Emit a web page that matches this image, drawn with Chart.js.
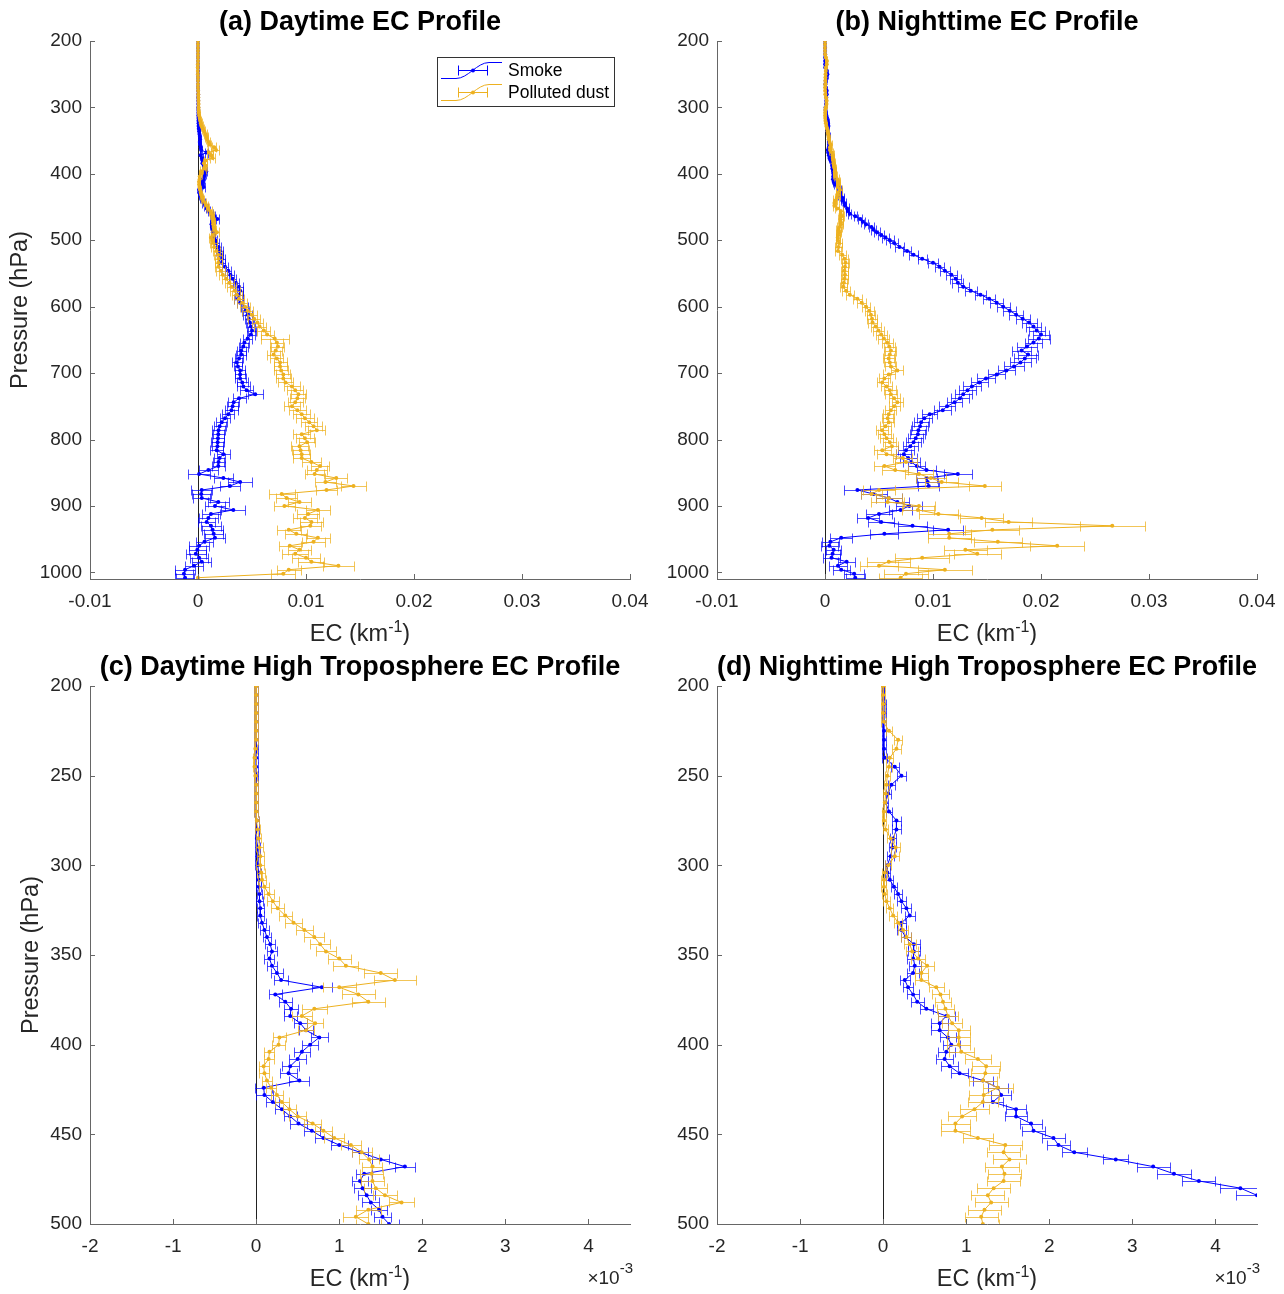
<!DOCTYPE html>
<html><head><meta charset="utf-8">
<script src="https://cdn.jsdelivr.net/npm/chart.js@4.4.1/dist/chart.umd.min.js"></script>
<style>
html,body{margin:0;padding:0;background:#fff;}
body{width:1284px;height:1294px;position:relative;overflow:hidden;}
canvas{position:absolute;}
</style></head><body>
<canvas id="ca" width="657" height="645" style="left:0;top:0"></canvas>
<canvas id="cb" width="657" height="645" style="left:627px;top:0"></canvas>
<canvas id="cc" width="657" height="645" style="left:0;top:645px"></canvas>
<canvas id="cd" width="657" height="645" style="left:627px;top:645px"></canvas>
<script>
// ---------------- DATA (EC in units of 1e-3 km^-1) ----------------
const pressureHPa = [
200,205,210,215,220,225,230,235,240,245,250,255,260,265,270,275,280,285,290,295,300,
304,308,312,316,320,324,328,332,336,340,344,348,352,356,360,364,368,372,376,380,384,388,392,396,400,404,408,412,416,420,424,428,432,436,440,444,448,452,456,460,464,468,472,476,480,484,488,492,496,500,
504,510,516,522,528,534,540,546,552,558,564,570,576,582,588,594,600,606,612,618,624,630,636,642,648,654,660,666,672,678,684,690,696,702,708,714,720,726,732,738,744,750,756,762,768,774,780,786,792,798,804,810,816,822,828,834,840,846,852,858,864,870,876,882,888,894,900,906,912,918,924,930,936,942,948,954,960,966,972,978,984,990,996,1002,1008];

const daySmokeEC = [
0,0,0,0,0,0,0,0,0,0,0,0,0,0,0,0.01,0.01,0.01,0.02,0.02,0.02,
0.03,0.03,0.03,0.04,0.04, 0.05,0.05,0.07,0.1,0.13, 0.17,0.19,0.16,0.19,0.25, 0.3,0.79,0.23,0.35,0.42, 0.41,0.53,0.6,0.76,0.65, 0.55,0.5,0.41,0.39,0.52, 0.09,0.1,0.2,0.31,0.41, 0.51,0.67,0.81,1.0,1.25, 1.5,1.79,1.3,1.25,1.28, 1.33,1.38,1.48,1.52,1.6,
1.7,1.9,2.0,2.1,2.2, 2.2,2.5,2.8,3.0,3.2, 3.5,3.8,3.9,3.8,3.7, 3.9,4.3,4.4,4.6,4.7, 4.8,4.9,5.0,4.9,4.6, 4.3,4.2,4.0,4.0,3.8, 3.6,3.7,3.9,3.9,3.9, 4.1,4.2,4.5,5.3,3.8, 3.3,3.2,3.1,2.8,2.5, 2.2,2.0,1.9,1.88,1.85, 1.82,1.8,1.73,2.35,2.0, 1.9,1.88,0.96,0.1,2.35, 3.9,2.96,0.34,0.3,0.35, 1.88,1.57,3.27,1.2,0.96, 0.8,1.2,1.35,1.45,1.57, 0.6,0.1,-0.06,-0.2,0.1, 0.34,-0.37,-1.2,-1.3,-1.2];
const daySmokeErr = [
0.02,0.02,0.02,0.02,0.02,0.02,0.02,0.02,0.02,0.02,0.02,0.02,0.02,0.02,0.02,0.02,0.02,0.02,0.03,0.03,0.03,
0.03,0.03,0.03,0.03,0.04, 0.04,0.04,0.05,0.05,0.05, 0.06,0.06,0.06,0.06,0.07, 0.08,0.12,0.08,0.08,0.08, 0.08,0.08,0.08,0.1,0.1, 0.1,0.1,0.1,0.1,0.12, 0.1,0.1,0.08,0.08,0.08, 0.1,0.1,0.1,0.1,0.1, 0.1,0.12,0.1,0.1,0.1, 0.1,0.1,0.1,0.1,0.12,
0.25,0.25,0.3,0.25,0.3, 0.3,0.3,0.3,0.35,0.3, 0.3,0.35,0.3,0.35,0.35, 0.3,0.35,
0.35,0.4,0.35,0.4,0.4, 0.35,0.4,0.4,0.45,0.4, 0.4,0.45,0.4,0.45,0.4, 0.45,
0.45,0.5,0.5,0.6,0.6, 0.7,0.6,0.5,0.5,0.6, 0.55,0.5, 0.5,0.55,0.6,0.5,0.55, 0.6,0.5,0.6,0.6,0.5, 0.55,0.6,
0.9,1.0,0.9,1.1,0.9, 1.0,0.9,0.8,1.0,0.9, 1.1,0.8,0.9,0.8,0.9, 1.0,0.9,0.9,0.8,0.9, 0.8,0.9,0.8,0.9,0.8, 0.9,0.8,0.8];

const dayDustEC = [
0,0,0,0,0,0,0,-0.01,-0.02,-0.02,-0.01,0,0,0,0,0.01,0.02,0.03,0.04,0.05,0.05,
0.06,0.07,0.1,0.15,0.2, 0.26,0.35,0.45,0.58,0.7, 0.77,0.84,1.0,1.08,1.5, 1.67,1.0,1.23,1.35,0.7, 0.55,0.71,0.6,0.28,0.27, 0.16,0.15,0.09,0.1,0.13, 0.18,0.25,0.31,0.4,0.5, 0.68,0.81,0.94,1.14,1.27, 1.36,1.4,1.39,1.4,1.44, 1.55,1.75,1.35,1.2,1.35,
1.42,1.5,1.7,1.85,1.9, 1.88,1.9,2.1,2.3,2.6, 2.9,3.1,3.4,3.6,3.8, 4.1,4.35,4.6,5.0,5.2, 5.5,5.7,6.1,6.4,7.1, 7.3,7.4,7.2,7.0,7.3, 7.6,7.6,7.7,7.9,7.9, 8.1,8.7,9.0,9.3,9.2, 9.0,8.7,9.2,9.6,9.9, 10.3,10.7,11.0,9.6,9.9, 10.1,9.4,9.5,9.6,9.6, 10.5,11.3,11.0,10.8,12.8, 11.8,14.4,11.9,7.75,8.2, 9.4,8.0,11.1,10.2,9.9, 10.5,10.4,8.4,9.1,11.1, 10.7,8.5,9.4,9.0,10.0, 10.5,13.0,8.4,7.9,0];
const dayDustErr = [
0.02,0.02,0.02,0.02,0.02,0.02,0.02,0.02,0.02,0.02,0.02,0.02,0.02,0.02,0.02,0.02,0.03,0.03,0.04,0.04,0.05,
0.05,0.05,0.06,0.06,0.07, 0.08,0.08,0.1,0.1,0.12, 0.12,0.12,0.14,0.15,0.2, 0.25,0.2,0.2,0.2,0.15, 0.12,0.1,0.1,0.08,0.08, 0.06,0.06,0.06,0.06,0.06, 0.06,0.07,0.08,0.08,0.1, 0.1,0.1,0.12,0.12,0.12, 0.12,0.12,0.14,0.14,0.14, 0.14,0.15,0.15,0.15,0.15,
0.3,0.3,0.3,0.35,0.35, 0.35,0.35,0.4,0.4,0.4, 0.4,0.4,0.45,0.45,0.45, 0.45,0.5,
0.5,0.5,0.55,0.5,0.55, 0.6,0.6,1.3,0.6,0.6, 0.55,0.6,0.6,0.6,0.6, 0.65,
0.65,0.7,0.7,0.7,0.75, 0.7,0.7,0.7,0.75,0.8, 0.8,0.8,0.75,0.8,0.8, 0.8,0.8,0.75,0.8,0.8, 0.8,0.8,0.85,0.85,
0.9,0.9,1.0,1.0,1.2, 1.0,1.2,1.0,1.1,1.0, 1.1,1.0,1.1,1.1,1.0, 1.1,1.0,1.1,1.1,1.0, 1.1,1.2,1.3,1.2,1.4, 1.1,1.1,0];

const nightSmokeEC = [
0,0,0.01,0.01,0.01,0.01,0.01,0.01,0.02,0.14,0.22,0.1,0.06,0.03,0.07,0.16,0.16,0.12,0.11,0.09,0.05,
0.05,0.08,0.13,0.18,0.22, 0.28,0.32,0.22,0.22,0.27, 0.37,0.37,0.36,0.38,0.36, 0.26,0.3,0.36,0.41,0.52, 0.76,0.68,0.68,0.78,0.82, 0.76,0.74,0.8,0.92,1.2, 1.38,1.42,1.32,1.6,1.6, 1.78,1.81,2.05,2.11,2.3, 2.8,3.25,3.5,3.8,4.3, 4.5,4.8,5.2,5.6,6.0,
6.4,6.9,7.6,8.2,9.0, 10.0,10.6,11.1,11.7,12.1, 12.3,12.8,13.5,14.4,15.2, 15.9,16.5,17.1,17.7,18.3, 18.9,19.3,19.6,20.0,19.8, 19.3,18.7,18.2,18.8,18.5, 18.1,17.5,16.8,15.9,14.9, 14.3,13.6,13.2,12.8,12.5, 12.0,11.3,10.9,9.7,9.2, 8.9,8.8,8.65,8.6,8.4, 8.2,7.9,7.5,7.3,7.7, 8.0,8.5,9.4,12.3,9.4, 9.5,9.6,3.0,4.5,5.9, 6.7,7.8,7.0,5.0,4.0, 5.2,8.1,11.4,5.5,1.5, 0.5,0.4,0.8,0.7,0.6, 2.0,1.2,1.5,2.7,2.8];
const nightSmokeErr = [
0.01,0.01,0.02,0.02,0.02,0.02,0.02,0.02,0.03,0.05,0.05,0.04,0.03,0.03,0.04,0.05,0.05,0.04,0.04,0.04,0.03,
0.03,0.04,0.04,0.05,0.05, 0.06,0.06,0.05,0.05,0.06, 0.07,0.07,0.07,0.07,0.07, 0.06,0.06,0.07,0.08,0.08, 0.1,0.1,0.1,0.1,0.1, 0.1,0.1,0.1,0.1,0.12, 0.12,0.12,0.12,0.12,0.13, 0.13,0.14,0.14,0.14,0.15, 0.15,0.2,0.2,0.2,0.25, 0.25,0.3,0.3,0.35,0.35,
0.35,0.4,0.4,0.4,0.4, 0.45,0.45,0.45,0.5,0.5, 0.5,0.5,0.55,0.55,0.55, 0.6,0.6,
0.6,0.65,0.65,0.7,0.7, 0.75,0.75,1.0,0.8,0.9, 0.9,0.9,1.0,1.0,0.9, 0.8,
0.8,0.8,0.8,0.8,0.8, 0.8,0.8,0.7,0.7,0.8, 0.7,0.7,0.7,0.7,0.7, 0.7,0.7,0.7,0.7,0.7, 0.7,0.8,0.8,0.8,
0.9,1.3,1.0,1.0,1.0, 1.2,1.2,1.2,1.1,1.2, 1.1,1.2,1.0,1.2,1.3, 1.4,1.3,1.0,0.8,0.8, 0.7,0.7,0.8,0.8,0.8, 0.8,0.9,0.9];

const nightDustEC = [
0,0,0,0,0.01,0.07,0.18,0.16,0.08,0.07,0.05,0.04,0.03,0.02,0.01,0.01,0.03,0.09,0.15,0.14,0.06,
0.02,0.01,0.01,0.02,0.04, 0.08,0.12,0.18,0.24,0.28, 0.32,0.35,0.42,0.53,0.46, 0.46,0.64,0.69,0.72,0.75, 0.78,0.83,0.91,0.91,0.91, 0.94,1.14,1.24,1.23,1.2, 1.38,1.21,1.2,1.1,0.95, 0.87,0.87,1.14,1.47,1.45, 1.52,1.43,1.46,1.45,1.33, 1.26,1.3,1.22,1.18,1.2,
1.3,1.25,1.2,1.6,1.8, 1.9,1.85,1.8,1.85,1.82, 1.75,1.7,1.95,2.3,3.0, 3.4,3.8,4.1,4.25,4.35, 4.4,4.7,4.95,5.2,5.45, 5.75,5.95,6.1,6.0,5.9, 6.0,6.1,6.7,5.9,5.5, 5.3,5.7,6.0,6.1,6.4, 6.7,6.4,6.1,5.9,5.8, 5.9,5.6,5.3,5.5,5.7, 6.0,6.2,5.3,5.7,7.2, 7.5,5.5,6.5,8.7,9.8, 10.8,14.8,5.0,4.3,5.9, 5.8,8.7,8.6,10.5,14.5, 17.0,26.6,15.5,11.5,11.5, 16.0,21.5,13.0,14.1,9.0, 5.9,5.0,11.1,7.5,7.0];
const nightDustErr = [
0.02,0.02,0.02,0.02,0.03,0.04,0.05,0.05,0.04,0.04,0.03,0.03,0.03,0.02,0.02,0.02,0.03,0.04,0.05,0.05,0.04,
0.03,0.03,0.03,0.03,0.04, 0.04,0.05,0.05,0.06,0.06, 0.07,0.07,0.08,0.08,0.08, 0.08,0.09,0.1,0.1,0.1, 0.12,0.12,0.13,0.14,0.14, 0.15,0.16,0.17,0.17,0.17, 0.18,0.18,0.18,0.18,0.17, 0.17,0.17,0.18,0.2,0.2, 0.2,0.2,0.2,0.2,0.2, 0.2,0.2,0.2,0.2,0.2,
0.25,0.3,0.3,0.3,0.3, 0.3,0.3,0.3,0.3,0.3, 0.3,0.3,0.35,0.35,0.4, 0.4,0.4,
0.4,0.4,0.45,0.45,0.45, 0.5,0.5,0.5,0.5,0.5, 0.5,0.5,0.5,0.5,0.5, 0.55,
0.55,0.5,0.5,0.5,0.55, 0.55,0.5,0.5,0.5,0.5, 0.5,0.5,0.5,0.5,0.55, 0.6,0.6,0.6,0.6,0.8, 0.9,0.9,1.0,1.0,
1.2,1.3,1.4,1.5,1.5, 1.5,1.0,1.2,1.5,1.5, 1.5,1.8,2.0,2.2,3.0, 2.5,2.0,2.0,2.2,2.5, 2.0,2.2,2.5,2.0,1.8, 2.5,2.0,2.0];

const seriesNames = ['Smoke', 'Polluted dust'];
const panelTitles = ['(a) Daytime EC Profile', '(b) Nighttime EC Profile',
  '(c) Daytime High Troposphere EC Profile', '(d) Nighttime High Troposphere EC Profile'];
const fullXTicks = [-10, 0, 10, 20, 30, 40];
const fullXTickLabels = ['-0.01', '0', '0.01', '0.02', '0.03', '0.04'];
const highXTicks = [-2, -1, 0, 1, 2, 3, 4];
const highXTickLabels = ['-2', '-1', '0', '1', '2', '3', '4'];
const fullYTicks = [200, 300, 400, 500, 600, 700, 800, 900, 1000];
const highYTicks = [200, 250, 300, 350, 400, 450, 500];

// ---------------- STYLE ----------------
const FF = '"Liberation Sans", Arial, Helvetica, sans-serif';
const BLUE = 'rgb(0,0,255)';
const ORANGE = 'rgb(237,177,32)';
const AXIS = '#666666';
const TXT = '#262626';
Chart.defaults.font.family = FF;
Chart.defaults.color = TXT;

function pts(vals) { return pressureHPa.map((p, i) => ({ x: vals[i], y: p })); }

const errorBarPlugin = {
  id: 'errbars',
  beforeDatasetDraw(chart, args) {
    const ds = chart.data.datasets[args.index];
    if (!ds.errors) return;
    const { ctx, chartArea: a } = chart;
    const xs = chart.scales.x, ys = chart.scales.y;
    ctx.save();
    ctx.beginPath(); ctx.rect(a.left, a.top, a.right - a.left, a.bottom - a.top); ctx.clip();
    ctx.strokeStyle = ds.errColor; ctx.lineWidth = 1;
    ctx.beginPath();
    ds.data.forEach((pt, i) => {
      const e = ds.errors[i];
      if (!(e > 0)) return;
      const py = Math.round(ys.getPixelForValue(pt.y)) + 0.5;
      const x1 = Math.round(xs.getPixelForValue(pt.x - e)) + 0.5;
      const x2 = Math.round(xs.getPixelForValue(pt.x + e)) + 0.5;
      ctx.moveTo(x1, py); ctx.lineTo(x2, py);
      ctx.moveTo(x1, py - 5); ctx.lineTo(x1, py + 5);
      ctx.moveTo(x2, py - 5); ctx.lineTo(x2, py + 5);
    });
    ctx.stroke();
    ctx.restore();
  }
};

const decorPlugin = {
  id: 'decor',
  beforeDatasetsDraw(chart) {
    const { ctx, chartArea: a } = chart;
    const x0 = Math.round(chart.scales.x.getPixelForValue(0)) + 0.5;
    ctx.save();
    ctx.strokeStyle = '#222'; ctx.lineWidth = 1;
    ctx.beginPath(); ctx.moveTo(x0, a.top); ctx.lineTo(x0, a.bottom); ctx.stroke();
    ctx.restore();
  },
  afterDraw(chart, args, opts) {
    const { ctx, chartArea: a } = chart;
    const xs = chart.scales.x, ys = chart.scales.y;
    ctx.save();
    ctx.strokeStyle = AXIS; ctx.lineWidth = 1;
    ctx.beginPath();
    ys.ticks.forEach(t => {
      const py = Math.round(ys.getPixelForValue(t.value)) + 0.5;
      ctx.moveTo(a.left, py); ctx.lineTo(a.left + 5, py);
    });
    xs.ticks.forEach(t => {
      const px = Math.round(xs.getPixelForValue(t.value)) + 0.5;
      ctx.moveTo(px, a.bottom); ctx.lineTo(px, a.bottom - 5);
    });
    ctx.stroke();
    const f1 = '23.5px ' + FF, f2 = '16px ' + FF;
    ctx.fillStyle = TXT; ctx.textBaseline = 'alphabetic'; ctx.textAlign = 'left';
    ctx.font = f1;
    const w1 = ctx.measureText('EC (km').width, w3 = ctx.measureText(')').width;
    ctx.font = f2;
    const w2 = ctx.measureText('-1').width;
    let x = (a.left + a.right) / 2 - (w1 + w2 + w3) / 2;
    const base = a.bottom + 62;
    ctx.font = f1; ctx.fillText('EC (km', x, base); x += w1;
    ctx.font = f2; ctx.fillText('-1', x, base - 9); x += w2;
    ctx.font = f1; ctx.fillText(')', x, base);
    if (opts.exponent) {
      const g1 = '19px ' + FF, g2 = '15px ' + FF;
      ctx.font = g1; const e1 = ctx.measureText('\u00d710').width;
      ctx.font = g2; const e2 = ctx.measureText('-3').width;
      const ex = a.right + 3 - e1 - e2;
      const eb = a.bottom + 60;
      ctx.font = g1; ctx.fillText('\u00d710', ex, eb);
      ctx.font = g2; ctx.fillText('-3', ex + e1, eb - 11);
    }
    if (opts.legend) {
      const bx = 437.5, by = 57.5, bw = 177, bh = 49;
      ctx.fillStyle = '#fff'; ctx.fillRect(bx, by, bw, bh);
      ctx.strokeStyle = '#333'; ctx.lineWidth = 1; ctx.strokeRect(bx, by, bw, bh);
      const rows = [{ c: BLUE, y: 70.5, n: seriesNames[0] }, { c: ORANGE, y: 92.5, n: seriesNames[1] }];
      rows.forEach(r => {
        ctx.strokeStyle = r.c; ctx.lineWidth = 1;
        ctx.beginPath();
        ctx.moveTo(441, r.y + 8); ctx.lineTo(456, r.y + 8);
        ctx.bezierCurveTo(468, r.y + 8, 477, r.y - 8, 489, r.y - 8);
        ctx.lineTo(502, r.y - 8);
        ctx.stroke();
        ctx.beginPath();
        ctx.moveTo(458, r.y); ctx.lineTo(488, r.y);
        ctx.moveTo(458.5, r.y - 5); ctx.lineTo(458.5, r.y + 5);
        ctx.moveTo(487.5, r.y - 5); ctx.lineTo(487.5, r.y + 5);
        ctx.stroke();
        ctx.fillStyle = r.c;
        ctx.beginPath(); ctx.arc(473, r.y, 2, 0, Math.PI * 2); ctx.fill();
        ctx.fillStyle = '#000'; ctx.font = '17.5px ' + FF; ctx.textBaseline = 'middle';
        ctx.fillText(r.n, 508, r.y + 1);
      });
    }
    ctx.restore();
  }
};

function makeChart(id, cfg) {
  const datasets = [
    { label: seriesNames[0], data: pts(cfg.smoke), errors: cfg.smokeErr, errColor: 'rgba(0,0,255,0.7)',
      showLine: true, borderColor: BLUE, backgroundColor: BLUE, borderWidth: 1,
      pointRadius: 2, pointBorderWidth: 0, pointHoverRadius: 0, clip: 0, order: 2 },
    { label: seriesNames[1], data: pts(cfg.dust), errors: cfg.dustErr, errColor: 'rgba(237,177,32,0.75)',
      showLine: true, borderColor: ORANGE, backgroundColor: ORANGE, borderWidth: 1,
      pointRadius: 2, pointBorderWidth: 0, pointHoverRadius: 0, clip: 0, order: 1 }
  ];
  return new Chart(document.getElementById(id), {
    type: 'scatter',
    data: { datasets },
    plugins: [errorBarPlugin, decorPlugin],
    options: {
      responsive: false, animation: false, devicePixelRatio: 1,
      events: [],
      layout: { padding: { left: 0, right: 27, top: 0, bottom: 0 } },
      plugins: {
        legend: { display: false }, tooltip: { enabled: false },
        title: { display: true, text: cfg.title, fullSize: false, color: '#000',
                 font: { size: 27, weight: 'bold', family: FF }, padding: { top: 6.8, bottom: 1.8 } },
        decor: { legend: cfg.legend, exponent: cfg.exponent }
      },
      scales: {
        x: {
          type: 'linear', position: 'bottom', min: cfg.xMin, max: cfg.xMax,
          afterBuildTicks: s => { s.ticks = cfg.xTicks.map(v => ({ value: v })); },
          afterFit: s => { s.height = 66; s.paddingLeft = 0; s.paddingRight = 0; },
          grid: { display: false, drawTicks: false },
          border: { display: true, color: AXIS, width: 1 },
          ticks: { font: { size: 19 }, color: TXT, padding: 11.5, maxRotation: 0, autoSkip: false,
                   callback: v => cfg.xLabels[cfg.xTicks.indexOf(v)] }
        },
        y: {
          type: 'linear', reverse: true, min: 200, max: cfg.yMax,
          afterBuildTicks: s => { s.ticks = cfg.yTicks.map(v => ({ value: v })); },
          afterFit: s => { s.width = 90; s.paddingTop = 0; s.paddingBottom = 0; },
          grid: { display: false, drawTicks: false },
          border: { display: true, color: AXIS, width: 1 },
          ticks: { font: { size: 19 }, color: TXT, padding: 8, autoSkip: false,
                   callback: v => String(v) },
          title: { display: cfg.yTitle, text: 'Pressure (hPa)', color: TXT,
                   font: { size: 23.5 }, padding: { top: cfg.yTitlePad, bottom: 0 } }
        }
      }
    }
  });
}

makeChart('ca', { title: panelTitles[0], smoke: daySmokeEC, smokeErr: daySmokeErr, dust: dayDustEC, dustErr: dayDustErr,
  xMin: -10, xMax: 40, xTicks: fullXTicks, xLabels: fullXTickLabels, yMax: 1010, yTicks: fullYTicks,
  yTitle: true, yTitlePad: 6.5, legend: true, exponent: false });
makeChart('cb', { title: panelTitles[1], smoke: nightSmokeEC, smokeErr: nightSmokeErr, dust: nightDustEC, dustErr: nightDustErr,
  xMin: -10, xMax: 40, xTicks: fullXTicks, xLabels: fullXTickLabels, yMax: 1010, yTicks: fullYTicks,
  yTitle: false, yTitlePad: 0, legend: false, exponent: false });
makeChart('cc', { title: panelTitles[2], smoke: daySmokeEC, smokeErr: daySmokeErr, dust: dayDustEC, dustErr: dayDustErr,
  xMin: -2, xMax: 4.5, xTicks: highXTicks, xLabels: highXTickLabels, yMax: 500, yTicks: highYTicks,
  yTitle: true, yTitlePad: 17, legend: false, exponent: true });
makeChart('cd', { title: panelTitles[3], smoke: nightSmokeEC, smokeErr: nightSmokeErr, dust: nightDustEC, dustErr: nightDustErr,
  xMin: -2, xMax: 4.5, xTicks: highXTicks, xLabels: highXTickLabels, yMax: 500, yTicks: highYTicks,
  yTitle: false, yTitlePad: 0, legend: false, exponent: true });
</script>
</body></html>
